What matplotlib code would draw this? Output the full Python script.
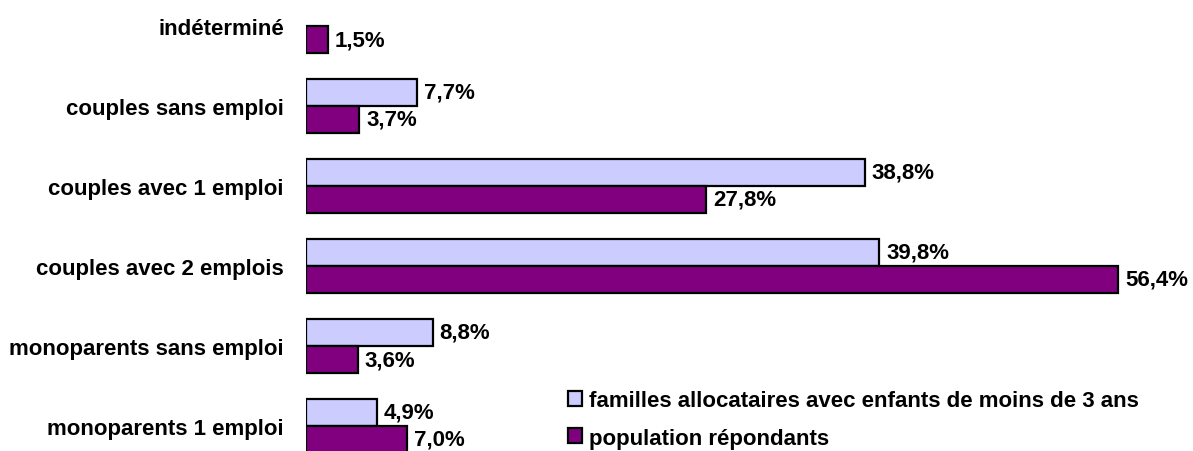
import numpy as np
import matplotlib
matplotlib.use('Agg')
from matplotlib import pyplot as plt

plt.rcParams['font.family'] = ['Liberation Sans', 'DejaVu Sans']
plt.rcParams['font.weight'] = 'bold'

categories = ['indéterminé', 'couples sans emploi', 'couples avec 1 emploi',
              'couples avec 2 emplois', 'monoparents sans emploi', 'monoparents 1 emploi']
familles = [np.nan, 7.7, 38.8, 39.8, 8.8, 4.9]
population = [1.5, 3.7, 27.8, 56.4, 3.6, 7.0]
series_names = ['familles allocataires avec enfants de moins de 3 ans',
                'population répondants']

col_fam = '#CCCCFF'
col_pop = '#800080'
fs = 16

fig = plt.figure(figsize=(11.93, 4.52), dpi=100)
ax = fig.add_axes([306 / 1193, 0, 1 - 306 / 1193, 1])

h = 27 / 80
centers = np.arange(len(categories)) + 27 / 80

def lab(v):
    return f'{v:.1f}%'.replace('.', ',')

for i, c in enumerate(centers):
    v = familles[i]
    if not np.isnan(v):
        ax.barh(c - h / 2, v, height=h, color=col_fam, edgecolor='black', linewidth=1.6,
                label=series_names[0] if i == 1 else None)
        ax.annotate(lab(v), (v, c - h / 2), xytext=(5, 0), textcoords='offset points',
                    va='center', ha='left', fontsize=fs, fontweight='bold')
    v = population[i]
    ax.barh(c + h / 2, v, height=h, color=col_pop, edgecolor='black', linewidth=1.6,
            label=series_names[1] if i == 1 else None)
    ax.annotate(lab(v), (v, c + h / 2), xytext=(5, 0), textcoords='offset points',
                va='center', ha='left', fontsize=fs, fontweight='bold')

ax.set_xlim(0, (1193 - 306) / 14.4)
ax.set_ylim(452 / 80, 0)
ax.set_yticks(centers)
ax.set_yticklabels(categories, fontsize=fs, fontweight='bold')
ax.tick_params(axis='y', length=0, pad=16)
ax.set_xticks([])
for s in ax.spines.values():
    s.set_visible(False)

leg = fig.legend(loc='upper left', bbox_to_anchor=(568 / 1193, 1 - 391 / 452),
                 frameon=False, fontsize=fs, handlelength=0.65, handleheight=0.65,
                 handletextpad=0.3, labelspacing=0.75, borderpad=0, borderaxespad=0)

plt.savefig('out.png', dpi=100)
